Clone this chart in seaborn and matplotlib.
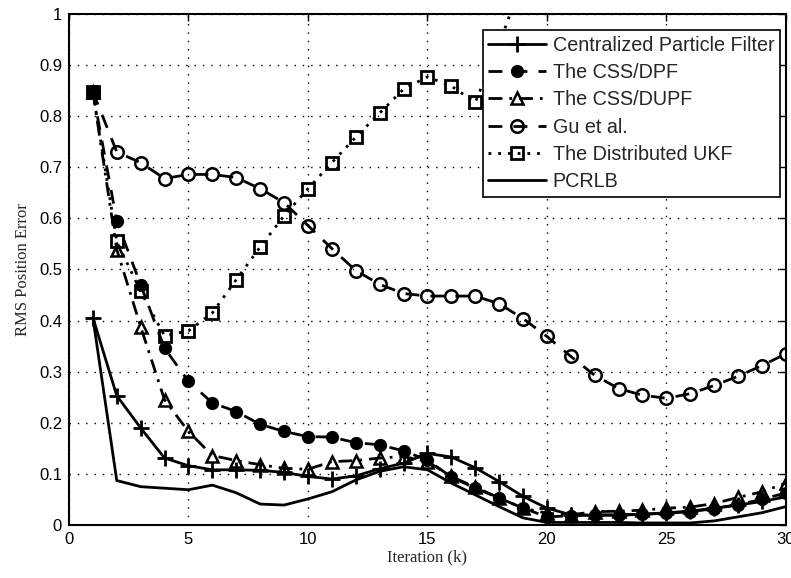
import numpy as np
import pandas as pd
import matplotlib
matplotlib.use("Agg")
import matplotlib.pyplot as plt
import seaborn as sns

iterations = list(range(1, 31))

centralized_pf = [0.406, 0.253, 0.190, 0.131, 0.116, 0.108, 0.108, 0.107, 0.103, 0.095,
                  0.090, 0.096, 0.110, 0.121, 0.140, 0.133, 0.112, 0.085, 0.056, 0.033,
                  0.020, 0.019, 0.019, 0.021, 0.024, 0.027, 0.033, 0.039, 0.046, 0.055]
css_dpf = [0.848, 0.595, 0.470, 0.346, 0.281, 0.239, 0.222, 0.197, 0.183, 0.173,
           0.172, 0.161, 0.157, 0.145, 0.127, 0.094, 0.072, 0.053, 0.033, 0.016,
           0.018, 0.020, 0.020, 0.021, 0.023, 0.026, 0.032, 0.040, 0.050, 0.063]
css_dupf = [0.848, 0.539, 0.388, 0.245, 0.183, 0.136, 0.126, 0.118, 0.111, 0.109,
            0.124, 0.126, 0.131, 0.134, 0.124, 0.095, 0.074, 0.053, 0.033, 0.023,
            0.020, 0.026, 0.027, 0.029, 0.033, 0.035, 0.042, 0.054, 0.065, 0.082]
gu_et_al = [0.848, 0.730, 0.709, 0.678, 0.686, 0.686, 0.680, 0.658, 0.631, 0.586,
            0.541, 0.498, 0.471, 0.453, 0.448, 0.448, 0.448, 0.433, 0.404, 0.369,
            0.330, 0.293, 0.267, 0.254, 0.248, 0.257, 0.273, 0.291, 0.312, 0.335]
dist_ukf = [0.848, 0.555, 0.457, 0.370, 0.380, 0.415, 0.480, 0.544, 0.605, 0.658,
            0.709, 0.759, 0.806, 0.853, 0.877, 0.859, 0.827, 0.940, 1.070] + [np.nan] * 11
pcrlb = [0.406, 0.087, 0.075, 0.072, 0.069, 0.078, 0.063, 0.041, 0.039, 0.051,
         0.065, 0.088, 0.105, 0.114, 0.108, 0.082, 0.059, 0.036, 0.014, 0.005,
         0.005, 0.005, 0.005, 0.004, 0.004, 0.004, 0.008, 0.016, 0.024, 0.036]

series_names = ["Centralized Particle Filter", "The CSS/DPF", "The CSS/DUPF",
                "Gu et al.", "The Distributed UKF", "PCRLB"]
series_values = [centralized_pf, css_dpf, css_dupf, gu_et_al, dist_ukf, pcrlb]

df = pd.DataFrame({
    "Iteration": np.tile(iterations, len(series_names)),
    "RMS": np.concatenate(series_values),
    "Method": np.repeat(series_names, len(iterations)),
})

sns.set_style("white")
plt.rcParams['font.family'] = ['Liberation Sans', 'DejaVu Sans']

fig = plt.figure(figsize=(7.91, 5.78), dpi=100)
ax = fig.add_axes([0.0872, 0.0917, 0.9063, 0.8841])

styles = {
    "Centralized Particle Filter": dict(linestyle="-", marker="+", ms=11, mew=2.0, mfc="black"),
    "The CSS/DPF": dict(linestyle=(0, (5, 4)), marker="o", ms=8, mew=1.5, mfc="black"),
    "The CSS/DUPF": dict(linestyle=(0, (5, 2.5, 1, 2.5)), marker="^", ms=9, mew=1.8, mfc="none"),
    "Gu et al.": dict(linestyle=(0, (5, 4)), marker="o", ms=9, mew=1.8, mfc="none"),
    "The Distributed UKF": dict(linestyle=(0, (1, 2.5)), marker="s", ms=8, mew=2.0, mfc="none"),
    "PCRLB": dict(linestyle="-", marker=None, ms=0, mew=0, mfc="none"),
}

for name in series_names:
    st = styles[name]
    sub = df[df["Method"] == name]
    sns.lineplot(data=sub, x="Iteration", y="RMS", ax=ax, color="black",
                 linewidth=2.0, linestyle=st["linestyle"], marker=st["marker"],
                 markersize=st["ms"], markeredgewidth=st["mew"],
                 markerfacecolor=st["mfc"], markeredgecolor="black",
                 label=name, estimator=None, sort=False)

ax.set_xlim(0, 30)
ax.set_ylim(0, 1)
ax.set_xticks(np.arange(0, 31, 5))
ax.set_yticks(np.arange(0, 1.01, 0.1))
ax.set_xticklabels(["0", "5", "10", "15", "20", "25", "30"])
ax.set_yticklabels(["0", "0.1", "0.2", "0.3", "0.4", "0.5", "0.6", "0.7", "0.8", "0.9", "1"])
ax.grid(True, color="black", linestyle=(0, (1, 5)), linewidth=1.0)
ax.tick_params(direction="in", length=5, width=1, top=True, right=True,
               labelsize=12, colors="black", pad=5)
for sp in ax.spines.values():
    sp.set_visible(True)
    sp.set_color("black")
    sp.set_linewidth(1.5)

ax.set_xlabel("Iteration (k)", fontsize=12, family=["Liberation Serif"], labelpad=2)
ax.set_ylabel("RMS Position Error", fontsize=12, family=["Liberation Serif"], labelpad=6)

leg = ax.legend(loc="upper right", bbox_to_anchor=(0.992, 0.969), fontsize=14.2,
                frameon=True, fancybox=False, edgecolor="black", framealpha=1,
                handlelength=2.9, borderpad=0.3, labelspacing=0.42, handletextpad=0.35,
                borderaxespad=0)
leg.get_frame().set_linewidth(1.2)
leg.set_zorder(10)

fig.savefig("out.png", dpi=100)
